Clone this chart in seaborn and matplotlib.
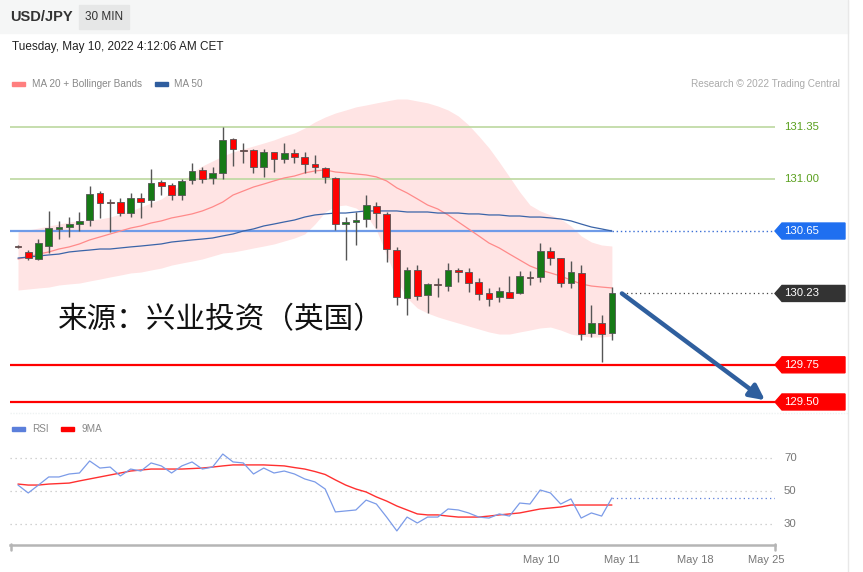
import matplotlib
matplotlib.use("Agg")
import matplotlib.pyplot as plt
from matplotlib.patches import Rectangle, Polygon
from matplotlib.lines import Line2D
import matplotlib.transforms as mtransforms
import seaborn as sns
import numpy as np

# --- data (USD/JPY, 30 min candles) ---
opens = [130.55, 130.509, 130.462, 130.549, 130.664, 130.677, 130.697, 130.724, 130.906, 130.845,
         130.845, 130.771, 130.872, 130.859, 130.980, 130.960, 130.892, 130.993, 131.061, 131.007,
         131.040, 131.269, 131.195, 131.195, 131.081, 131.182, 131.135, 131.175, 131.148, 131.101,
         131.074, 131.007, 130.697, 130.711, 130.731, 130.818, 130.765, 130.522, 130.199, 130.388,
         130.219, 130.294, 130.280, 130.388, 130.374, 130.307, 130.233, 130.206, 130.240, 130.233,
         130.340, 130.340, 130.516, 130.468, 130.300, 130.367, 129.964, 130.031, 129.964]
closes = [130.54, 130.468, 130.570, 130.670, 130.677, 130.697, 130.717, 130.899, 130.839, 130.839,
          130.771, 130.872, 130.845, 130.973, 130.953, 130.892, 130.987, 131.054, 131.000, 131.040,
          131.263, 131.202, 131.188, 131.081, 131.182, 131.135, 131.175, 131.148, 131.101, 131.081,
          131.014, 130.697, 130.711, 130.724, 130.825, 130.771, 130.529, 130.206, 130.388, 130.213,
          130.293, 130.287, 130.388, 130.374, 130.300, 130.226, 130.193, 130.246, 130.199, 130.347,
          130.334, 130.516, 130.468, 130.300, 130.374, 129.957, 130.031, 129.957, 130.230]
highs = [130.555, 130.522, 130.596, 130.785, 130.717, 130.744, 130.778, 130.953, 130.919, 130.865,
         130.872, 130.906, 130.906, 131.067, 130.993, 130.973, 131.000, 131.108, 131.081, 131.081,
         131.350, 131.276, 131.242, 131.202, 131.202, 131.182, 131.242, 131.202, 131.182, 131.162,
         131.081, 131.014, 130.744, 130.778, 130.892, 130.845, 130.778, 130.542, 130.408, 130.421,
         130.300, 130.334, 130.435, 130.401, 130.401, 130.334, 130.267, 130.273, 130.347, 130.381,
         130.381, 130.570, 130.542, 130.468, 130.448, 130.421, 130.152, 130.085, 130.273]
lows = [130.535, 130.455, 130.455, 130.502, 130.596, 130.610, 130.650, 130.684, 130.738, 130.643,
        130.751, 130.744, 130.738, 130.812, 130.892, 130.859, 130.859, 130.966, 130.973, 130.966,
        131.000, 131.088, 131.108, 131.040, 131.014, 131.047, 131.108, 131.108, 131.040, 131.040,
        130.973, 130.657, 130.455, 130.556, 130.677, 130.670, 130.442, 130.152, 130.085, 130.186,
        130.098, 130.206, 130.246, 130.307, 130.240, 130.186, 130.145, 130.172, 130.199, 130.226,
        130.287, 130.307, 130.421, 130.273, 130.267, 129.917, 129.937, 129.769, 129.917]

ma20 = [130.462, 130.475, 130.495, 130.509, 130.529, 130.543, 130.563, 130.590, 130.610, 130.630,
        130.650, 130.670, 130.684, 130.704, 130.718, 130.738, 130.751, 130.765, 130.785, 130.812,
        130.845, 130.892, 130.919, 130.946, 130.966, 130.987, 131.007, 131.020, 131.041, 131.054,
        131.061, 131.047, 131.041, 131.034, 131.027, 131.014, 130.987, 130.940, 130.906, 130.866,
        130.825, 130.798, 130.758, 130.711, 130.664, 130.617, 130.569, 130.536, 130.495, 130.455,
        130.415, 130.388, 130.368, 130.347, 130.320, 130.294, 130.280, 130.273, 130.267]
ma50 = [130.468, 130.475, 130.482, 130.489, 130.495, 130.509, 130.516, 130.522, 130.529, 130.529,
        130.536, 130.543, 130.549, 130.556, 130.563, 130.576, 130.583, 130.590, 130.596, 130.603,
        130.617, 130.630, 130.650, 130.664, 130.684, 130.697, 130.711, 130.724, 130.744, 130.758,
        130.765, 130.771, 130.771, 130.778, 130.785, 130.785, 130.785, 130.785, 130.778, 130.778,
        130.778, 130.771, 130.771, 130.771, 130.765, 130.765, 130.758, 130.758, 130.751, 130.751,
        130.744, 130.744, 130.738, 130.731, 130.718, 130.697, 130.677, 130.664, 130.650]
bb_upper = [130.644, 130.657, 130.670, 130.684, 130.697, 130.711, 130.718, 130.724, 130.731, 130.744,
            130.765, 130.785, 130.812, 130.839, 130.866, 130.913, 130.973, 131.041, 131.088, 131.121,
            131.155, 131.182, 131.202, 131.222, 131.242, 131.263, 131.289, 131.310, 131.343, 131.384,
            131.417, 131.444, 131.464, 131.485, 131.498, 131.512, 131.525, 131.538, 131.538, 131.525,
            131.512, 131.491, 131.464, 131.424, 131.364, 131.289, 131.209, 131.114, 131.014, 130.913,
            130.825, 130.785, 130.758, 130.731, 130.684, 130.617, 130.576, 130.556, 130.549]
bb_lower = [130.253, 130.260, 130.267, 130.273, 130.287, 130.294, 130.300, 130.314, 130.327, 130.341,
            130.354, 130.368, 130.374, 130.388, 130.401, 130.421, 130.435, 130.448, 130.462, 130.482,
            130.502, 130.509, 130.522, 130.536, 130.549, 130.563, 130.583, 130.603, 130.630, 130.697,
            130.778, 130.818, 130.825, 130.805, 130.758, 130.657, 130.489, 130.320, 130.199, 130.132,
            130.098, 130.072, 130.051, 130.031, 130.011, 129.991, 129.971, 129.957, 129.957, 129.971,
            129.984, 129.998, 130.004, 129.984, 129.957, 129.944, 129.937, 129.937, 129.944]

rsi = [53.6, 48.8, 53.6, 58.5, 58.5, 60.3, 60.9, 68.2, 63.9, 64.5,
       59.1, 63.3, 62.1, 67.0, 65.2, 60.9, 65.2, 67.6, 63.3, 64.5,
       72.4, 67.6, 67.0, 60.3, 63.9, 60.9, 62.1, 60.3, 57.3, 55.5,
       51.2, 37.3, 37.9, 38.5, 44.5, 42.1, 34.2, 25.8, 34.2, 30.6,
       34.2, 34.2, 39.1, 38.5, 36.7, 34.2, 33.6, 36.1, 34.8, 42.7,
       42.1, 50.6, 48.8, 42.1, 45.2, 33.6, 36.7, 34.8, 45.8]
rsi_ma9 = [54.2, 53.6, 53.6, 54.2, 54.5, 54.8, 56.1, 57.3, 58.5, 59.7,
           60.9, 62.1, 62.7, 63.3, 63.3, 63.3, 63.3, 63.6, 63.9, 64.5,
           65.2, 65.8, 65.8, 65.8, 65.8, 65.5, 65.2, 64.2, 63.3, 61.8,
           60.0, 56.7, 53.6, 51.2, 49.4, 46.4, 43.9, 40.9, 38.5, 36.1,
           35.5, 35.5, 34.8, 34.2, 34.2, 34.2, 34.8, 35.5, 36.1, 36.7,
           37.9, 39.1, 39.7, 40.3, 41.5, 41.5, 41.5, 41.5, 41.5]

resistances = [131.35, 131.00]
pivot = 130.65
last_price = 130.23
supports = [129.75, 129.50]
rsi_levels = [70, 50, 30]
date_pos = [51.1, 59.0, 66.1, 73.1]
date_labels = ["May 10", "May 11", "May 18", "May 25"]

W, H = 863, 572
X0, X1 = -0.78, 73.93
Y0, Y1 = 129.446, 131.565

sns.set_style("white")
plt.rcParams['font.family'] = ['Liberation Sans', 'Noto Sans CJK SC', 'DejaVu Sans']

fig = plt.figure(figsize=(W / 100, H / 100), dpi=100)


def fx(px):
    return px / W


def fy(py):
    return 1 - py / H


# header band
fig.patches.append(Rectangle((0, fy(33)), fx(848), 33 / H, transform=fig.transFigure,
                             color='#f5f6f6', zorder=0))
fig.patches.append(Rectangle((fx(79), fy(29)), fx(50), 24 / H, transform=fig.transFigure,
                             color='#e6e7e7', zorder=1))
fig.add_artist(Line2D([fx(848), fx(848)], [0, 1], color='#e8e8e8', lw=1))
fig.text(fx(10), fy(17), "USD/JPY", fontsize=10.5, fontweight='bold', color='#333333', va='center')
fig.text(fx(104), fy(17), "30 MIN", fontsize=8.5, color='#333333', va='center', ha='center')
fig.text(fx(12), fy(47), "Tuesday, May 10, 2022 4:12:06 AM CET", fontsize=8.5, color='#222222', va='center')

# legends
fig.patches.append(Rectangle((fx(12), fy(86)), fx(13), 4 / H, transform=fig.transFigure, color='#ff7f7f'))
fig.text(fx(32), fy(84), "MA 20 + Bollinger Bands", fontsize=7.2, color='#888888', va='center')
fig.patches.append(Rectangle((fx(155), fy(86)), fx(13), 4 / H, transform=fig.transFigure, color='#2f5d9e'))
fig.text(fx(174), fy(84), "MA 50", fontsize=7.2, color='#888888', va='center')
fig.text(fx(840), fy(84), "Research \u00a9 2022 Trading Central", fontsize=7.2, color='#aaaaaa',
         va='center', ha='right')
fig.patches.append(Rectangle((fx(12), fy(431)), fx(13), 4 / H, transform=fig.transFigure, color='#5b7fdb'))
fig.text(fx(32), fy(429), "RSI", fontsize=7.2, color='#888888', va='center')
fig.patches.append(Rectangle((fx(61), fy(431)), fx(13), 4 / H, transform=fig.transFigure, color='#ff0000'))
fig.text(fx(81), fy(429), "9MA", fontsize=7.2, color='#888888', va='center')

# faint divider between panels
fig.add_artist(Line2D([fx(10), fx(848)], [fy(413), fy(413)], color='#eef2f2', lw=1, ls=(0, (1, 1))))

# --- price panel ---
ax = fig.add_axes([fx(10), fy(410), fx(765), (410 - 95) / H])
ax.set_xlim(X0, X1)
ax.set_ylim(Y0, Y1)
ax.axis('off')

idx = np.arange(len(opens))
ax.fill_between(idx, bb_lower, bb_upper, color='#ffe4e4', lw=0, zorder=1)
sns.lineplot(x=idx, y=ma20, ax=ax, color='#ff8a8a', lw=0.9, zorder=2)
sns.lineplot(x=idx, y=ma50, ax=ax, color='#3a64a8', lw=0.9, zorder=2)

for lv in resistances:
    ax.hlines(lv, X0, X1, color='#bcd8a0', lw=1.2, zorder=1.5)
ax.hlines(pivot, X0, idx[-1], color='#6f9be8', lw=1.6, zorder=1.5)
ax.hlines(pivot, idx[-1], X1, color='#3b6fd6', lw=1.0, ls=(0, (1, 2)), zorder=1.5)
ax.hlines(last_price, 58.98, X1, color='#444444', lw=0.9, ls=(0, (1, 2.5)), zorder=1.5)
for lv in supports:
    ax.hlines(lv, X0, X1, color='#ff0000', lw=1.6, zorder=1.5)

# candles
o = np.array(opens)
c = np.array(closes)
up = c >= o
ax.vlines(idx, lows, highs, color='#555555', lw=1.0, zorder=3)
body = np.maximum(np.abs(c - o), 0.008)
ax.bar(idx, body, bottom=np.minimum(o, c), width=0.66,
       color=np.where(up, '#167a16', '#ff0000'), edgecolor='#555555', lw=0.6, zorder=4)

# forecast arrow
ax.annotate('', xy=(72.95, supports[1] + 0.012), xytext=(58.98, last_price),
            arrowprops=dict(arrowstyle='-|>,head_length=0.9,head_width=0.45', color='#2f5f9e',
                            lw=3.2, shrinkA=0, shrinkB=0), zorder=5)

ax.text((58 - 10) / 765, (410 - 320) / 315, "来源：兴业投资（英国）",
        transform=ax.transAxes, fontsize=21.3, color='#111111', va='center', ha='left',
        family=['Noto Sans CJK SC', 'DejaVu Sans'], zorder=6)

# price tags on the right
tr = mtransforms.blended_transform_factory(fig.transFigure, ax.transData)
half = 8 * (Y1 - Y0) / 315


def tag(price, color, fill=True, text_color='white'):
    label = f"{price:.2f}"
    if fill:
        pts = [(fx(775), price), (fx(782), price + half), (fx(845), price + half),
               (fx(845), price - half), (fx(782), price - half)]
        ax.add_patch(Polygon(pts, closed=True, transform=tr, color=color, clip_on=False, zorder=6))
    ax.text(fx(784), price, label, transform=tr, fontsize=8.2, color=text_color,
            va='center', ha='left', clip_on=False, zorder=7)


for lv in resistances:
    tag(lv, None, fill=False, text_color='#5aa01e')
tag(pivot, '#1f6ff0')
tag(last_price, '#333333')
for lv in supports:
    tag(lv, '#ff0000')

# --- RSI panel ---
ax2 = fig.add_axes([fx(10), fy(545), fx(765), (545 - 440) / H])
ax2.set_xlim(X0, X1)
ax2.set_ylim(17.27, 80.9)
tr2 = mtransforms.blended_transform_factory(fig.transFigure, ax2.transData)
for lv in rsi_levels:
    ax2.hlines(lv, X0, X1, color='#c4c4c4', lw=0.9, ls=(0, (1, 3)))
    ax2.text(fx(784), lv, str(lv), transform=tr2, fontsize=8.2, color='#777777', va='center', ha='left')
sns.lineplot(x=idx, y=rsi_ma9, ax=ax2, color='#ff3030', lw=1.0)
sns.lineplot(x=idx, y=rsi, ax=ax2, color='#7b9be8', lw=0.9)
ax2.hlines(rsi[-1], idx[-1], X1, color='#5b7fdb', lw=0.9, ls=(0, (1, 2.5)))

for s in ['top', 'left', 'right']:
    ax2.spines[s].set_visible(False)
ax2.spines['bottom'].set_color('#b5b5b5')
ax2.spines['bottom'].set_linewidth(1.8)
ax2.set_yticks([])
ax2.set_xticks(date_pos, date_labels)
ax2.tick_params(axis='x', length=0, pad=7, labelsize=8, colors='#777777')
ax2.set_xlabel('')
ax2.set_ylabel('')
fig.add_artist(Line2D([fx(10.5), fx(10.5)], [fy(544), fy(550)], color='#b5b5b5', lw=1.8))
fig.add_artist(Line2D([fx(774.5), fx(774.5)], [fy(544), fy(550)], color='#b5b5b5', lw=1.8))

fig.savefig("out.png", dpi=100)
